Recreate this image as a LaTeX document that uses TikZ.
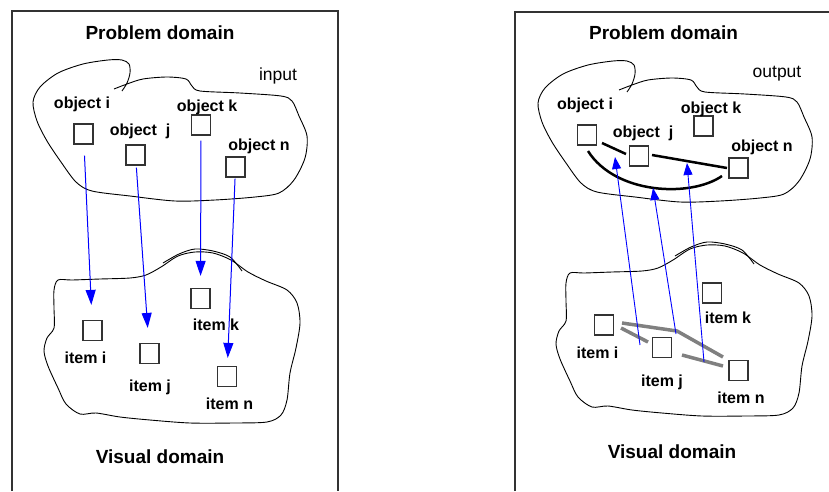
\documentclass[tikz,border=0pt]{standalone}
\usepackage{fontspec}
\setmainfont{Liberation Sans}
\usetikzlibrary{arrows.meta}

\tikzset{
  outline/.style = {draw = black, line width = 0.9pt},
  topcloud/.pic = {
    \draw [outline] plot [smooth] coordinates {(122,91) (127,83) (130,73) (129,64) (122,60) (108,60) (83,64) (58,73) (40,87) (33,102) (37,121) (47,141) (61,162) (76,182) (92,191) (130,196) (175,201) (215,200) (255,197) (279,193) (294,180) (305,158) (307,136) (299,116) (292,101) (281,96) (240,93) (200,91) (192,86) (186,79) (167,77) (143,79) (127,84) (114,89)};
  },
  bottomcloud/.pic = {
    \draw [outline] plot [smooth cycle] coordinates {(58,280) (54,290) (54,308) (54,328) (47,338) (44,351) (48,366) (58,388) (66,404) (80,414) (96,413) (120,417) (150,420) (190,423) (233,423) (267,422) (281,415) (287,400) (290,373) (296,348) (300,323) (297,303) (287,290) (266,281) (248,272) (231,260) (213,253) (195,252) (178,256) (161,267) (146,275) (130,278) (100,279) (72,280)};
    \draw [outline] plot [smooth] coordinates {(163,263) (179,254) (195,249) (213,251) (230,257) (242,271)};
  }
}

\begin{document}
\begin{tikzpicture}[x = 1pt, y = -1pt,
    panel/.style = {draw = black!80, line width = 1.2pt},
    obj/.style = {draw = black!80, line width = 1.2pt, minimum width = 19pt, minimum height = 20pt, inner sep = 0pt},
    lbl/.style = {font = \fontsize{16}{19}\selectfont\bfseries, anchor = base, inner sep = 0pt},
    ttl/.style = {font = \fontsize{19}{23}\selectfont\bfseries, anchor = base, inner sep = 0pt},
    remark/.style = {font = \fontsize{17.5}{21}\selectfont, anchor = base, inner sep = 0pt},
    downarrow/.style = {draw = blue, line width = 1pt, -{Triangle[length = 15pt, width = 10pt]}},
    uparrow/.style = {draw = blue, line width = 0.9pt, -{Triangle[length = 12pt, width = 9pt]}},
    rel/.style = {draw = black, line width = 2.5pt},
    grel/.style = {draw = black!50, line width = 3.5pt}]
    \useasboundingbox (0,0) rectangle (829,491);

    \draw [panel] (12,491) -- (12,11) -- (338,11) -- (338,491);
    \draw [panel] (515,491) -- (515,12) -- (829,12);

    \pic at (0,0) {topcloud};
    \pic at (505,1) {topcloud};
    \pic at (0,0) {bottomcloud};
    \pic at (512,-7) {bottomcloud};

    \node [ttl] (T1) at (160,39) {Problem domain};
    \node [ttl] (T2) at (160,463) {Visual domain};
    \node [remark] (N1) at (278,80) {input};

    \node [obj] (P1) at (83.5,134) {};
    \node [obj] (P2) at (135.5,155) {};
    \node [obj] (P3) at (201,125) {};
    \node [obj] (P4) at (235.5,167) {};
    \node [obj] (V1) at (92.5,330.5) {};
    \node [obj] (V2) at (149.5,353.5) {};
    \node [obj] (V3) at (200.5,298.5) {};
    \node [obj] (V4) at (227,376.5) {};

    \node [lbl] (LP1) at (82,108) {object i};
    \node [lbl] (LP2) at (140,135) {object\ \ j};
    \node [lbl] (LP3) at (207,111) {object k};
    \node [lbl] (LP4) at (259,150) {object n};
    \node [lbl] (LV1) at (85.5,363) {item i};
    \node [lbl] (LV2) at (150,391) {item j};
    \node [lbl] (LV3) at (216,330) {item k};
    \node [lbl] (LV4) at (229.5,409) {item n};

    \draw [downarrow, shorten <= 11pt, shorten >= 15pt] (P1) -- (V1);
    \draw [downarrow, shorten <= 2pt, shorten >= 15pt] (P2) -- (V2);
    \draw [downarrow, shorten <= 5pt, shorten >= 12pt] (P3) -- (V3);
    \draw [downarrow, shorten <= 1pt, shorten >= 8pt] (P4) -- (V4);

    \node [ttl] (T3) at (663.5,39) {Problem domain};
    \node [ttl] (T4) at (672,458) {Visual domain};
    \node [remark] (N2) at (777,77) {output};

    \node [obj] (P5) at (587,135) {};
    \node [obj] (P6) at (639,156) {};
    \node [obj] (P7) at (703.5,126) {};
    \node [obj] (P8) at (738.5,168) {};
    \node [obj] (V5) at (604,325) {};
    \node [obj] (V6) at (662,347.5) {};
    \node [obj] (V7) at (712,293) {};
    \node [obj] (V8) at (738.5,370.5) {};

    \node [lbl] (LP5) at (585,109) {object i};
    \node [lbl] (LP6) at (643,137) {object\ \ j};
    \node [lbl] (LP7) at (711,113) {object k};
    \node [lbl] (LP8) at (762,151) {object n};
    \node [lbl] (LV5) at (597.5,358) {item i};
    \node [lbl] (LV6) at (662,386) {item j};
    \node [lbl] (LV7) at (728,323) {item k};
    \node [lbl] (LV8) at (741,403) {item n};

    \coordinate (R1) at (602,143);
    \coordinate (R2) at (626,154);
    \coordinate (R3) at (652,155);
    \coordinate (R4) at (727,168);
    \coordinate (R5) at (588,151);
    \coordinate (R6) at (722,176);

    \draw [rel] (R1) -- (R2);
    \draw [rel] (R3) -- (R4);
    \draw [rel] (R5) .. controls (615,194) and (690,198) .. (R6);

    \coordinate (G1) at (622,323);
    \coordinate (G2) at (677,331);
    \coordinate (G3) at (723,357);
    \coordinate (G4) at (621,328);
    \coordinate (G5) at (648,342);
    \coordinate (G6) at (682,355);
    \coordinate (G7) at (723,366);

    \draw [grel] (G1) -- (G2) -- (G3);
    \draw [grel] (G4) -- (G5);
    \draw [grel] (G6) -- (G7);

    \coordinate (A1) at (640,345);
    \coordinate (B1) at (615,157);
    \coordinate (A2) at (676,334);
    \coordinate (B2) at (653,188);
    \coordinate (A3) at (704,362);
    \coordinate (B3) at (687,163);

    \draw [uparrow] (A1) -- (B1);
    \draw [uparrow] (A2) -- (B2);
    \draw [uparrow] (A3) -- (B3);
  \end{tikzpicture}
\end{document}
